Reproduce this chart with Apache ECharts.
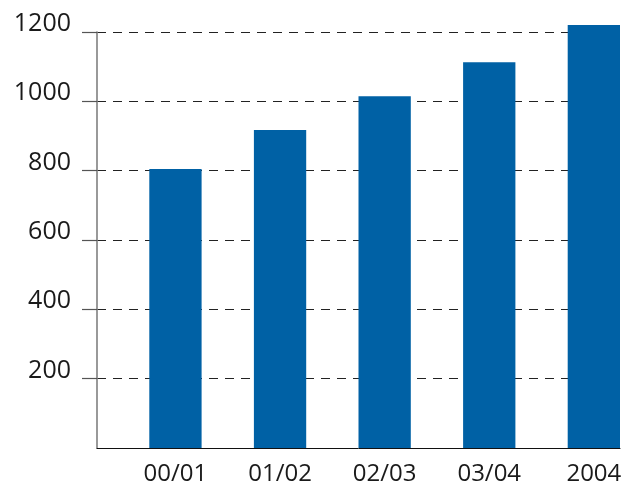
<!DOCTYPE html>
<html>
<head>
<meta charset="utf-8">
<script src="https://cdn.jsdelivr.net/npm/echarts@6/dist/echarts.min.js"></script>
<style>
  html, body { margin: 0; padding: 0; background: #fff; }
  #chart { width: 632px; height: 486px; }
</style>
</head>
<body>
<div id="chart"></div>
<script>
// Categories and yearly values
const categories = ['00/01', '01/02', '02/03', '03/04', '2004'];
const values = [805, 917, 1015, 1113, 1220];
const yTicks = [200, 400, 600, 800, 1000, 1200];

const chart = echarts.init(document.getElementById('chart'), null, { renderer: 'canvas' });

const font = '"Open Sans", "Noto Sans", sans-serif';

chart.setOption({
  animation: false,
  backgroundColor: '#ffffff',
  grid: { left: 97, right: 12, top: 32, bottom: 38, containLabel: false },
  xAxis: {
    type: 'category',
    data: categories,
    boundaryGap: true,
    axisLine: { show: true, lineStyle: { color: '#111', width: 1 } },
    axisTick: { show: false },
    splitLine: { show: false },
    axisLabel: {
      color: '#1a1a1a',
      fontFamily: font,
      fontSize: 24,
      margin: 14,
      // shift each label over the bar, which sits in the right half of its band
      padding: [0, 0, 0, 104.6 / 2]
    }
  },
  yAxis: {
    type: 'value',
    min: 0,
    max: 1200,
    interval: 200,
    axisLine: { show: true, lineStyle: { color: '#808080', width: 1.6 } },
    axisTick: {
      show: true,
      inside: false,
      length: 15,
      customValues: yTicks,
      lineStyle: { color: '#555', width: 1.2 }
    },
    axisLabel: {
      color: '#1a1a1a',
      fontFamily: font,
      fontSize: 25,
      margin: 26,
      customValues: yTicks,
      verticalAlign: 'bottom',
      lineHeight: 16,
      formatter: (v) => String(v)
    },
    splitLine: {
      show: true,
      lineStyle: { color: '#222', width: 1.2, type: [9, 7] }
    }
  },
  series: [
    {
      // empty companion series: keeps the left half of each band free
      name: 'spacer',
      type: 'bar',
      data: [],
      barGap: '0%',
      barCategoryGap: '0%'
    },
    {
      name: 'value',
      type: 'bar',
      data: values,
      clip: false,
      barGap: '0%',
      barCategoryGap: '0%',
      itemStyle: { color: '#0061a5' },
      z: 1
    }
  ]
});
</script>
</body>
</html>
